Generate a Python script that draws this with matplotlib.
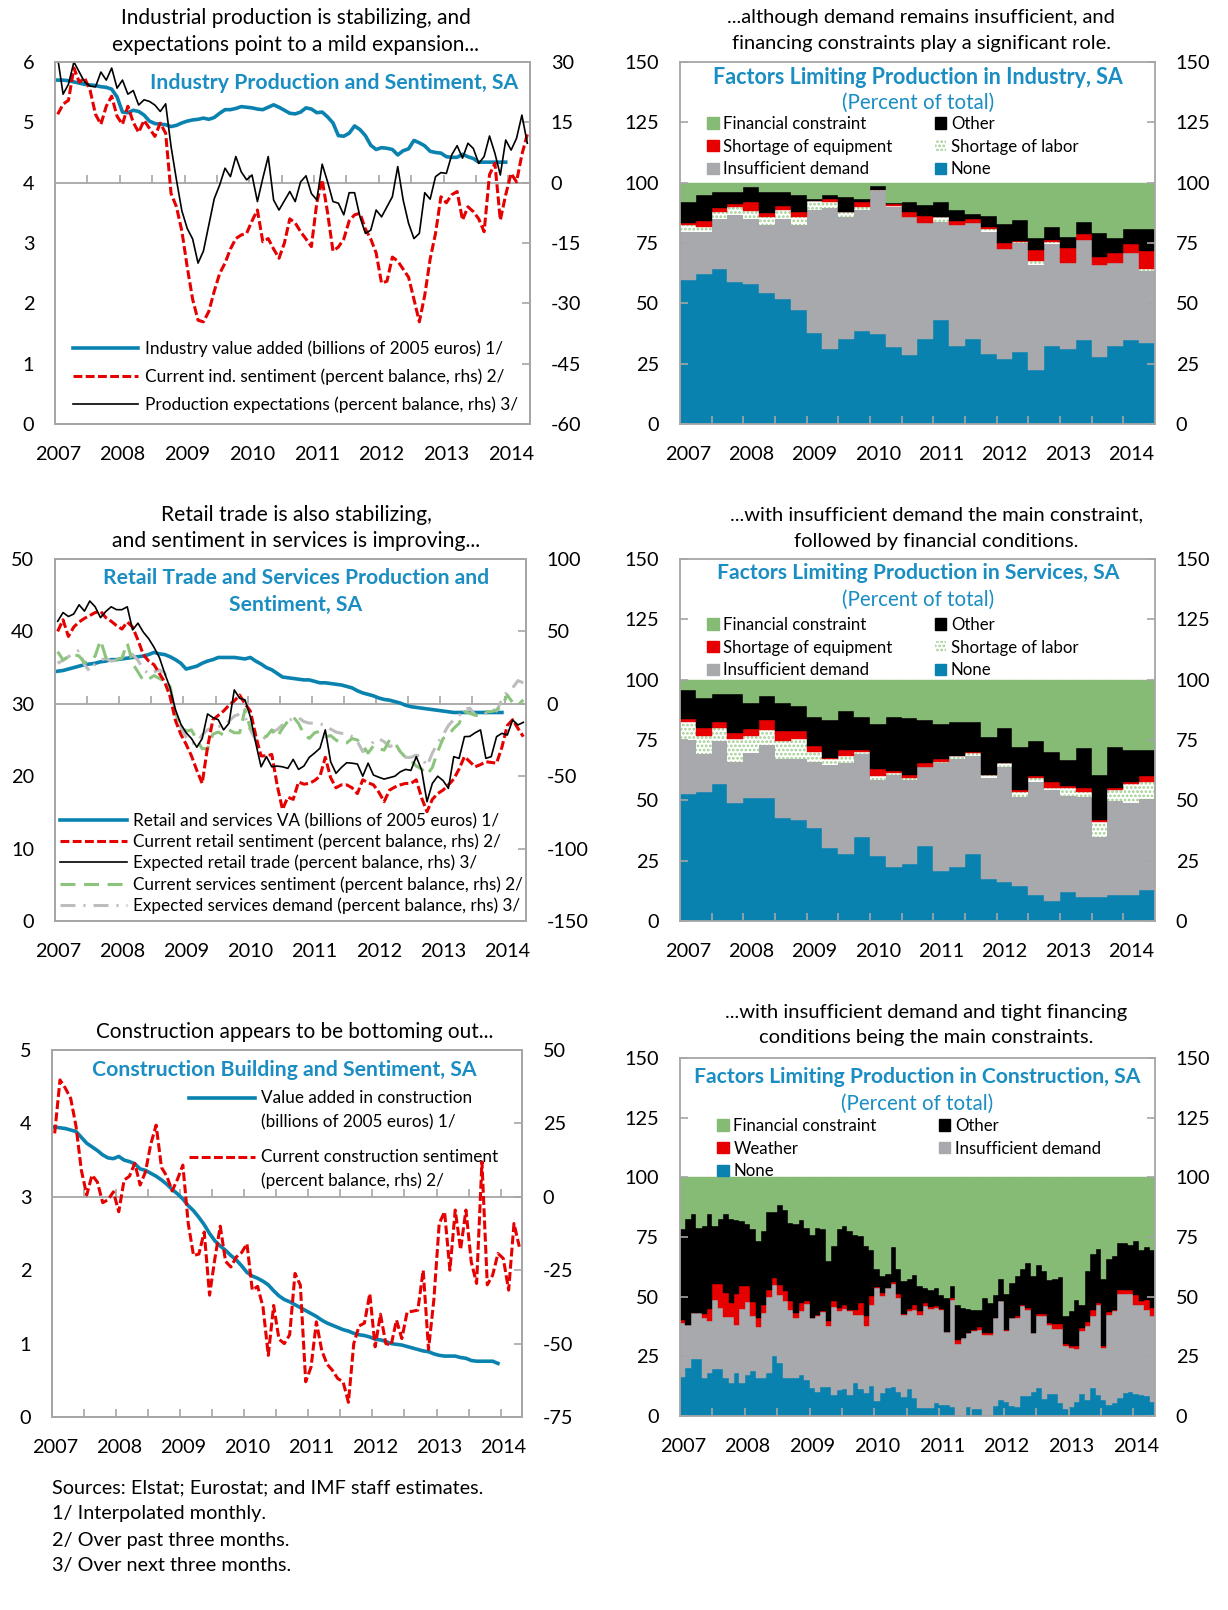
"""Greece: production, sentiment and factors limiting production (six panels)."""

import numpy as np
import matplotlib

matplotlib.use("Agg")
import matplotlib.pyplot as plt
from matplotlib.lines import Line2D
from matplotlib.patches import Patch

plt.rcParams["font.family"] = ["Lato", "DejaVu Sans"]
plt.rcParams["hatch.linewidth"] = 1.3
plt.rcParams["axes.unicode_minus"] = False

# ---------------------------------------------------------------- data
# monthly series, Jan 2007 onwards (value added ends Dec 2013)
ind_va = [5.70, 5.70, 5.69, 5.67, 5.65, 5.63, 5.62, 5.61, 5.59, 5.58, 5.55, 5.42,
          5.17, 5.16, 5.20, 5.18, 5.12, 5.02, 4.98, 4.97, 4.96, 4.93, 4.95, 4.99,
          5.02, 5.04, 5.05, 5.07, 5.05, 5.08, 5.15, 5.21, 5.21, 5.23, 5.26, 5.25,
          5.24, 5.22, 5.21, 5.25, 5.29, 5.25, 5.20, 5.15, 5.14, 5.17, 5.24, 5.22,
          5.16, 5.17, 5.09, 4.99, 4.78, 4.77, 4.82, 4.94, 4.88, 4.78, 4.62, 4.55,
          4.58, 4.57, 4.55, 4.46, 4.53, 4.56, 4.70, 4.66, 4.61, 4.52, 4.50, 4.49,
          4.43, 4.42, 4.42, 4.47, 4.43, 4.40, 4.34, 4.34, 4.34, 4.34, 4.34, 4.34]
ind_sent = [17, 19.5, 20.5, 28.5, 25, 26, 23, 17, 14.5, 19, 21.5, 16.5,
            14.5, 19, 15, 12.5, 15.5, 13.5, 11.5, 14.8, 12.3, -2.7, -6, -12,
            -21, -29, -34.2, -34.6, -32, -27, -22.6, -20, -16.5, -13.9, -13, -12.6,
            -9.5, -6.8, -14.7, -13.9, -16.5, -18.8, -15, -9, -10, -12.2, -14, -15.9,
            -5, 0.7, -7.5, -17, -16, -14, -9.5, -8, -7.6, -11.5, -14, -17.5,
            -25, -24.5, -18.5, -19.5, -21.5, -23.5, -29, -34.6, -28, -19, -12.6, -3.5,
            -5, -3, -2.2, -9.3, -6, -7.2, -9, -12.2, 2, 4.8, -9.3, -3,
            2.3, 0.2, 7, 12]
ind_expect = [31, 22, 24.5, 30, 27.5, 25, 24, 23.8, 27.5, 25.5, 28.5, 23.5,
              25.5, 22, 22.9, 19.3, 20.6, 20.2, 19.3, 17.7, 19.6, 9, 0.7, -7,
              -11.4, -14, -20, -17, -10.5, -4, -0.6, 3.6, 1.5, 6.5, 2.7, 0.7,
              1.9, -4.7, 1.1, 6.5, -4.3, -6.8, -4.5, -2.2, -4.7, 0.2, 1.7, -2.7,
              -4.3, 4.6, 0.2, -4.7, -5.1, -8, -2.5, -2.5, -8.5, -12.6, -11.8, -6.8,
              -8.5, -6, -3.5, 4, -4.3, -10.1, -13.9, -12.6, -2.5, -4.1, 1.5, 2.5,
              2.3, 6.9, 9.2, 6.1, 9.8, 8.5, 4.8, 6.5, 11.6, 7.3, 1.9, 10.6,
              8.1, 11, 16.8, 9.8]

ret_va = [34.5, 34.6, 34.8, 35.0, 35.2, 35.4, 35.5, 35.6, 35.8, 35.9, 36.1, 36.1,
          36.2, 36.3, 36.4, 36.5, 36.6, 36.8, 37.1, 36.9, 36.8, 36.5, 36.1, 35.6,
          34.8, 35.0, 35.2, 35.6, 35.9, 36.1, 36.4, 36.4, 36.4, 36.4, 36.3, 36.2,
          36.4, 35.9, 35.5, 35.0, 34.7, 34.2, 33.7, 33.6, 33.5, 33.4, 33.3, 33.3,
          33.1, 32.9, 32.9, 32.8, 32.7, 32.6, 32.4, 32.2, 31.8, 31.5, 31.3, 31.1,
          30.8, 30.6, 30.5, 30.3, 30.1, 29.8, 29.6, 29.5, 29.4, 29.3, 29.2, 29.1,
          29.0, 28.9, 28.8, 28.8, 28.8, 28.8, 28.8, 28.8, 28.8, 28.8, 28.8, 28.8]
ret_sent = [50, 58, 46.5, 53, 56.5, 59, 61, 63, 64, 59.5, 57, 54,
            51.6, 56.5, 53, 44, 34, 29.5, 27, 21, 15, 5, -11.5, -21,
            -28, -36, -46, -55, -30, -11, -8, -5, -1, 2, 6, 0,
            -5, -22, -36, -36, -35, -56, -73, -64.5, -66, -54, -55.5, -55,
            -53, -50, -37, -51, -58, -56, -56, -58, -62, -52.5, -54.5, -56,
            -61, -67.6, -59.6, -57.5, -56, -55, -55, -52.5, -65, -74.5, -66, -62,
            -59.6, -56, -52, -45, -36.5, -40, -43.5, -42, -40, -40.5, -41, -30,
            -15, -11, -17, -22.7]
ret_expect = [57, 63, 60.3, 62, 68.4, 64, 71, 67, 59.5, 63.8, 67, 65,
              65, 67, 51, 55.7, 49.5, 45, 39, 32, 21, 11, -4, -14,
              -20, -24, -30, -24, -7, -9.5, -11, -18, -13.5, 9.6, 3.8, 2.7,
              -9, -27, -43.5, -36.5, -43.5, -43, -43.5, -44.6, -38.4, -45.3, -43, -37,
              -34, -30.7, -18, -40, -48, -44, -40.7, -41, -41.6, -50, -41, -49.2,
              -50.7, -52, -51, -50, -47, -45.3, -46, -36.5, -45.7, -67.6, -55, -50,
              -53, -58.4, -36.5, -37.7, -22.7, -22.5, -20, -18, -37.7, -36.5, -22.7, -20.4,
              -21.6, -11.2, -14.6, -12.8]
serv_sent = [36, 30.3, 32.5, 34, 33, 28.5, 29, 33, 44, 32, 30.5, 30.5,
             31.5, 42, 28, 22, 16, 17, 19.5, 17.5, 15.4, 12, -6.6, -14,
             -19, -18, -25, -31, -31, -21, -19.5, -21.6, -18, -20, -20, -4,
             -17, -20, -21.5, -22.7, -18, -23, -17, -12, -9, -13.5, -21, -23.9,
             -20, -19, -22.7, -22, -25, -27.3, -27, -24, -25, -29, -34, -29,
             -31, -32, -25, -27, -33, -37, -39, -43, -45, -49, -44, -33,
             -24, -21.6, -17, -13.5, -5.4, -6.5, -8, -7, -5.4, -5.4, -4.3, -1.5,
             6, 1, -1, 2.7]
serv_demand = [28, 30, 32.5, 35, 37, 27, 22.5, 27.5, 30.3, 31.2, 29.5, 30,
               31.5, 35.5, 34, 30, 24, 20.5, 22, 23.4, 21.5, 10, -6, -16,
               -23, -27.3, -27, -21.5, -18, -16.5, -15.8, -15, -12, -8.5, -7, -9,
               -18, -25, -26, -22, -19, -18, -14.5, -12, -10, -9.5, -12.3, -13.3,
               -13.5, -14, -14.6, -17.5, -19.5, -20.4, -20.4, -22.7, -26, -33, -31, -26,
               -24, -26.2, -29.5, -28.5, -33, -37, -37, -35.4, -36.5, -43, -34, -27,
               -21.5, -15, -11, -8, -4, -3, -7.7, -8.9, -6.6, -3.5, -5, 3,
               8.4, 11, 16, 14.5]

con_va = [3.95, 3.94, 3.93, 3.91, 3.89, 3.81, 3.73, 3.68, 3.63, 3.57, 3.53, 3.52,
          3.55, 3.50, 3.48, 3.45, 3.38, 3.36, 3.32, 3.28, 3.23, 3.17, 3.10, 3.04,
          2.97, 2.88, 2.81, 2.72, 2.62, 2.50, 2.40, 2.33, 2.27, 2.20, 2.14, 2.06,
          1.97, 1.92, 1.89, 1.85, 1.80, 1.72, 1.65, 1.60, 1.57, 1.53, 1.49, 1.45,
          1.41, 1.37, 1.32, 1.28, 1.25, 1.22, 1.19, 1.17, 1.14, 1.12, 1.11, 1.09,
          1.06, 1.05, 1.03, 1.00, 0.99, 0.98, 0.96, 0.94, 0.92, 0.90, 0.89, 0.86,
          0.84, 0.83, 0.83, 0.83, 0.81, 0.80, 0.77, 0.76, 0.76, 0.76, 0.76, 0.73]
con_sent = [21.6, 39.8, 37, 33.5, 24, 9, 0.6, 7.4, 5, -2, -1, 1.7,
            -5.1, 5.7, 7, 11.4, 4, 8.5, 18, 24.4, 10, 7, 2, 6,
            10.8, -9, -20, -19.5, -12, -33.5, -21, -10, -22, -23.9, -20.5, -19,
            -16, -31.8, -30.5, -37.5, -54, -37, -48.5, -50, -47, -26.1, -30.1, -63,
            -58, -42.6, -52.3, -57, -59.1, -61.9, -63, -70, -50, -44, -43, -33,
            -51.1, -40, -50, -50.5, -42, -48.3, -39.2, -39, -38.6, -25, -52, -35,
            -9.1, -5.1, -25, -4.5, -18, -4.5, -22.2, -29.5, 11.9, -30, -26.7, -19.3,
            -21, -31.8, -9.1, -17]

# quarterly shares, 2007Q1-2014Q2 (percent of total)
ind_none = [59.7, 62.1, 64.4, 59.0, 58.2, 54.2, 52.0, 47.3, 37.9, 31.0, 35.4, 38.7, 37.2, 31.7, 28.5,
            35.4, 43.1, 32.4, 35.4, 29.2, 27.1, 30.0, 22.4, 32.4, 31.0, 34.7, 27.8, 32.4, 34.7, 33.5]
ind_demand = [19.8, 17.4, 20.5, 27.4, 26.7, 28.2, 32.9, 35.1, 50.7, 58.5, 50.2, 49.9, 59.2, 58.4, 57.1,
              47.8, 40.8, 50.0, 47.8, 50.3, 45.3, 44.9, 43.5, 42.1, 35.9, 41.6, 38.1, 34.5, 36.1, 29.7]
ind_labor = [2.8, 2.3, 2.9, 3.7, 3.2, 3.2, 3.7, 3.2, 3.9, 2.3, 2.2, 1.5, 0.7, 0.3, 0.0,
             0.0, 1.7, 0.0, 0.0, 1.5, 0.0, 0.7, 1.8, 0.8, 0.0, 0.0, 0.0, 0.0, 0.0, 1.0]
ind_equip = [0.9, 2.4, 1.7, 1.0, 3.7, 1.8, 1.8, 2.3, 0.0, 1.5, 0.0, 1.7, 0.0, 0.7, 2.3,
             3.1, 0.0, 1.8, 1.7, 0.6, 2.4, 0.4, 4.2, 1.0, 6.2, 2.4, 3.5, 3.9, 3.7, 7.3]
ind_other = [8.6, 10.5, 6.7, 5.1, 6.2, 8.8, 5.8, 6.8, 0.8, 1.4, 6.2, 1.5, 1.6, 0.4, 3.9,
             4.5, 6.2, 4.3, 2.1, 4.7, 8.2, 8.6, 5.0, 5.3, 4.5, 5.1, 9.7, 6.1, 6.2, 9.2]
ind_fin = [8.2, 5.3, 3.8, 3.8, 2.0, 3.8, 3.8, 5.3, 6.7, 5.3, 6.0, 6.7, 1.3, 8.5, 8.2,
           9.2, 8.2, 11.5, 13.0, 13.7, 17.0, 15.4, 23.1, 18.4, 22.4, 16.2, 20.9, 23.1, 19.3, 19.3]

srv_none = [52.6, 53.4, 56.7, 48.7, 51.1, 51.1, 42.5, 41.8, 38.6, 30.2, 27.8, 34.9, 27.0, 22.3, 23.8,
            31.0, 20.8, 22.3, 27.8, 17.6, 16.1, 14.5, 10.7, 8.3, 12.0, 9.8, 9.8, 10.7, 10.7, 13.0]
srv_demand = [22.4, 15.8, 17.9, 17.3, 18.6, 21.8, 24.5, 25.2, 27.4, 34.3, 37.5, 34.3, 31.4, 38.4, 34.6,
              32.9, 44.5, 44.7, 40.7, 41.5, 47.8, 36.7, 46.7, 45.9, 39.9, 41.4, 25.1, 39.0, 38.3, 37.5]
srv_labor = [7.3, 7.6, 5.5, 9.5, 7.1, 6.4, 7.7, 8.5, 4.0, 2.5, 3.2, 0.8, 1.7, 0.7, 0.7,
             0.0, 0.7, 1.5, 1.0, 1.2, 1.4, 2.3, 1.7, 1.0, 3.3, 2.3, 6.1, 4.5, 7.7, 7.1]
srv_equip = [1.6, 3.3, 2.2, 2.3, 2.6, 4.0, 3.9, 3.1, 2.4, 0.7, 2.3, 0.7, 2.9, 0.7, 1.6,
             1.4, 1.0, 0.0, 0.5, 0.4, 0.0, 0.7, 1.0, 2.2, 0.8, 1.7, 0.8, 1.0, 0.9, 2.5]
srv_other = [11.9, 12.3, 11.8, 16.3, 10.8, 10.0, 11.6, 10.6, 12.3, 15.6, 16.2, 14.0, 18.6, 22.6, 23.3,
             18.0, 14.6, 14.0, 12.5, 15.5, 14.8, 18.0, 14.6, 12.6, 10.8, 16.3, 18.7, 17.0, 13.1, 10.6]
srv_fin = [4.2, 7.6, 5.9, 5.9, 9.8, 6.7, 9.8, 10.8, 15.3, 16.7, 13.0, 15.3, 18.4, 15.3, 16.0,
           16.7, 18.4, 17.5, 17.5, 23.8, 19.9, 27.8, 25.3, 30.0, 33.2, 28.5, 39.5, 27.8, 29.3, 29.3]

# monthly shares, Jan 2007 - Apr 2014 (percent of total)
cst_none = [16.5, 20.3, 23.8, 23.8, 15.8, 17.9, 19.8, 19.8, 15.8, 14.0, 18.2, 14.0, 17.2, 18.9, 15.8,
            15.8, 17.9, 25.2, 22.2, 15.8, 15.8, 15.8, 17.2, 14.9, 11.9, 10.2, 12.3, 12.1, 8.8, 10.9,
            11.2, 8.8, 13.7, 11.2, 9.5, 12.6, 6.3, 9.5, 11.6, 12.1, 10.2, 8.1, 11.2, 7.4, 3.2,
            3.2, 3.2, 5.3, 4.6, 4.6, 3.9, 0.0, 0.0, 3.6, 2.8, 2.8, 0.0, 0.0, 4.2, 6.7,
            6.0, 4.2, 3.9, 8.4, 8.4, 10.2, 11.6, 7.0, 9.3, 9.3, 5.3, 2.8, 3.9, 6.0, 9.3,
            6.7, 11.9, 8.8, 6.7, 4.6, 5.3, 7.4, 9.5, 10.2, 9.3, 8.8, 8.4, 6.0]
cst_demand = [22.5, 18.0, 19.4, 19.4, 25.3, 21.8, 28.7, 25.5, 25.7, 27.5, 20.1, 30.9, 30.5, 23.2, 21.5,
              27.4, 32.0, 29.5, 28.7, 32.3, 28.8, 25.3, 26.7, 32.2, 29.2, 31.6, 31.2, 25.5, 36.9, 33.3,
              33.7, 35.1, 28.8, 31.0, 28.1, 34.1, 47.4, 40.7, 42.1, 43.0, 39.3, 34.4, 33.0, 37.2, 39.0,
              42.8, 41.7, 40.0, 39.7, 30.4, 44.9, 30.3, 32.7, 31.2, 32.7, 33.1, 34.1, 34.1, 36.9, 41.4,
              29.5, 36.9, 37.2, 37.6, 36.2, 24.6, 30.5, 35.1, 29.0, 27.1, 31.1, 26.4, 24.6, 22.0, 26.2,
              30.9, 29.9, 37.9, 21.8, 37.9, 38.6, 43.9, 41.8, 41.1, 37.4, 37.9, 36.2, 35.8]
cst_weather = [1.4, 0.0, 0.0, 0.0, 1.8, 5.2, 6.9, 10.1, 10.1, 5.9, 13.0, 9.5, 6.7, 5.6, 3.8,
               3.5, 3.1, 3.2, 3.8, 4.2, 3.5, 2.1, 3.5, 1.0, 0.0, 0.7, 0.4, 2.1, 2.4, 1.1,
               1.8, 0.7, 2.1, 5.2, 4.2, 3.5, 0.3, 1.4, 0.0, 1.0, 1.7, 0.4, 0.7, 2.1, 2.0,
               1.4, 0.8, 0.7, 0.6, 0.0, 0.7, 1.7, 0.0, 0.0, 0.7, 1.3, 0.7, 0.7, 0.0, 0.0,
               0.7, 0.0, 1.0, 0.7, 0.7, 0.0, 0.8, 0.8, 0.7, 2.3, 2.3, 1.1, 0.9, 1.2, 1.4,
               1.7, 2.8, 0.7, 0.7, 1.0, 0.7, 1.7, 1.7, 1.7, 3.8, 1.4, 4.2, 3.5]
cst_other = [38.1, 44.1, 41.3, 35.7, 36.5, 39.6, 24.0, 27.3, 32.9, 35.0, 30.7, 27.1, 26.2, 30.8, 32.2,
             30.8, 32.5, 27.6, 33.6, 33.9, 32.9, 37.1, 34.8, 30.8, 34.6, 36.4, 34.6, 25.2, 23.1, 33.2,
             32.9, 32.9, 31.1, 28.0, 29.4, 19.2, 7.4, 7.0, 5.6, 14.8, 10.2, 13.6, 12.3, 12.5, 10.2,
             6.3, 6.9, 7.7, 5.6, 14.5, 4.9, 14.7, 12.6, 10.1, 8.4, 7.1, 14.7, 12.6, 9.4, 9.4,
             15.1, 14.7, 16.5, 14.7, 18.6, 23.8, 20.2, 17.8, 17.9, 18.8, 19.6, 11.5, 14.8, 19.6, 9.8,
             21.4, 23.1, 22.7, 28.3, 22.1, 22.4, 19.3, 19.3, 18.8, 22.8, 21.3, 22.1, 24.1]
cst_fin = [21.5, 17.6, 15.5, 21.1, 20.6, 15.5, 20.6, 17.3, 15.5, 17.6, 18.0, 18.5, 19.4, 21.5, 26.7,
           22.5, 14.5, 14.5, 11.7, 13.8, 19.0, 19.7, 17.8, 21.1, 24.3, 21.1, 21.5, 35.1, 28.8, 21.5,
           20.4, 22.5, 24.3, 24.6, 28.8, 30.6, 38.6, 41.4, 40.7, 29.1, 38.6, 43.5, 42.8, 40.8, 45.6,
           46.3, 47.4, 46.3, 49.5, 50.5, 45.6, 53.3, 54.7, 55.1, 55.4, 55.7, 50.5, 52.6, 49.5, 42.5,
           48.7, 44.2, 41.4, 38.6, 36.1, 41.4, 36.9, 39.3, 43.1, 42.5, 41.7, 58.2, 55.8, 51.2, 53.3,
           39.3, 32.3, 29.9, 42.5, 34.4, 33.0, 27.7, 27.7, 28.2, 26.7, 30.6, 29.1, 30.6]

years = list(range(2007, 2015))
year_labels = [str(y) for y in years]

# ---------------------------------------------------------------- style
W, H = 1228, 1610
FRAME = "#A6A6A6"
BLUE = "#0A82B0"
TBLUE = "#1A8DC2"
RED = "#E60000"
GREEN = "#86BB76"
LGREEN = "#9FCF8F"
GRAY = "#A7A9AC"
SGREEN = "#8CC47E"
SGRAY = "#BDBDBD"
TICK_FS = 14.3
BAR_LEG_FS = 12.1

months = 2007 + (np.arange(88) + 0.5) / 12
quarters = 2007 + (np.arange(30) + 0.5) / 4
half_years = np.arange(2007.5, 2014.01, 0.5)

fig = plt.figure(figsize=(W / 100, H / 100), dpi=100)


def fx(x):
    return x / W


def fy(y):
    return 1 - y / H


def add_box(x0, y0, x1, y1):
    return fig.add_axes([fx(x0), fy(y1), (x1 - x0) / W, (y1 - y0) / H])


def frame(ax):
    for sp in ax.spines.values():
        sp.set_color(FRAME)
        sp.set_linewidth(1.3)


def heading(x, y, lines, size):
    for yy, txt in zip(y, lines):
        fig.text(fx(x), fy(yy), txt, ha="center", va="center", fontsize=size)


def inner_title(x, y, txt, size, bold=True):
    fig.text(fx(x), fy(y), txt, ha="center", va="center", fontsize=size,
             color=TBLUE, fontweight="bold" if bold else "normal")


def x_axis(ax, label_pos, xmax, bottom_ticks):
    ax.set_xlim(2007, xmax)
    ax.set_xticks(label_pos, year_labels)
    ax.set_xticks(half_years, minor=True)
    ax.tick_params(axis="x", which="major", length=0, pad=15.5, labelsize=TICK_FS)
    ax.tick_params(axis="x", which="minor", direction="in", color=FRAME, width=1.2,
                   length=6 if bottom_ticks else 0)


def line_panel(box, llim, lticks, rlim, rticks, zero_left, bottom_ticks=False):
    ax = add_box(*box)
    ax2 = ax.twinx()
    x_axis(ax, np.array(years) + 1 / 24, 2007 + 88 / 12, bottom_ticks)
    ax.set_ylim(*llim)
    ax.set_yticks(lticks)
    ax.tick_params(axis="y", length=0, pad=15, labelsize=TICK_FS)
    ax2.set_ylim(*rlim)
    ax2.set_yticks(rticks)
    ax2.tick_params(axis="y", direction="in", length=6, width=1.2, color=FRAME,
                    pad=15, labelsize=TICK_FS)
    frame(ax)
    frame(ax2)
    ax.axhline(zero_left, color=FRAME, lw=1.3, zorder=1)
    ax.plot(half_years, np.full(len(half_years), zero_left), ls="none", marker=2,
            ms=6, mew=1.2, color=FRAME, zorder=1)
    return ax, ax2


def bar_panel(box, xs, width, xmax, label_pos, stacks):
    ax = add_box(*box)
    bottom = np.zeros(len(xs))
    for vals, color, hatch in stacks:
        vals = np.asarray(vals)
        if hatch:
            ax.bar(xs, vals, width, bottom=bottom, color="white", edgecolor=LGREEN,
                   hatch=hatch, linewidth=0)
        else:
            ax.bar(xs, vals, width, bottom=bottom, color=color, edgecolor=color,
                   linewidth=0.3)
        bottom = bottom + vals
    x_axis(ax, label_pos, xmax, True)
    ax.set_ylim(0, 150)
    ax.set_yticks(np.arange(0, 151, 25))
    ax.tick_params(axis="y", direction="in", length=6, width=1.2, color=FRAME,
                   left=True, right=True, labelleft=True, labelright=True,
                   pad=15, labelsize=TICK_FS)
    frame(ax)
    return ax


def bar_legend(ax, handles, x, y, colsp):
    ax.legend(handles=handles, ncol=2, loc="upper left", bbox_to_anchor=(fx(x), fy(y)),
              bbox_transform=fig.transFigure, frameon=False, fontsize=BAR_LEG_FS,
              handlelength=0.7, handleheight=0.65, handletextpad=0.27,
              labelspacing=0.4, columnspacing=colsp, borderpad=0, borderaxespad=0)


def patch(color, label, hatch=None):
    if hatch:
        return Patch(facecolor="white", edgecolor=LGREEN, hatch=hatch, lw=0, label=label)
    return Patch(facecolor=color, edgecolor=color, label=label)


red_dash = dict(color=RED, lw=2.2, dashes=(2.9, 1.1))
green_dash = dict(color=SGREEN, lw=2.2, dashes=(4.9, 2.8))
gray_dashdot = dict(color=SGRAY, lw=2.2, dashes=(4.9, 2.6, 0.7, 2.6))

# ---------------------------------------------------------------- panel 1
ax, ax2 = line_panel((55, 62, 530, 424), (0, 6), range(0, 7), (-60, 30),
                     range(-60, 31, 15), 4)
ax.plot(months[:84], ind_va, color=BLUE, lw=2.6)
ax2.plot(months, ind_sent, **red_dash)
ax2.plot(months, ind_expect, color="black", lw=1.2)
ax2.legend(handles=[Line2D([], [], color=BLUE, lw=2.6),
                    Line2D([], [], **red_dash),
                    Line2D([], [], color="black", lw=1.2)],
           labels=["Industry value added (billions of 2005 euros) 1/",
                   "Current ind. sentiment (percent balance, rhs) 2/",
                   "Production expectations (percent balance, rhs) 3/"],
           loc="upper left", bbox_to_anchor=(fx(73), fy(340)), bbox_transform=fig.transFigure,
           frameon=False, fontsize=12.4, handlelength=3.8, handletextpad=0.4,
           labelspacing=0.68, borderpad=0, borderaxespad=0)
heading(296, [18, 45], ["Industrial production is stabilizing, and",
                        "expectations point to a mild expansion..."], 15)
inner_title(334, 83, "Industry Production and Sentiment, SA", 15.3)

# ---------------------------------------------------------------- panel 2
ax = bar_panel((680, 62, 1155, 424), quarters, 0.25, 2014.5, np.array(years) + 0.125,
               [(ind_none, BLUE, None), (ind_demand, GRAY, None), (ind_labor, None, "...."),
                (ind_equip, RED, None), (ind_other, "black", None), (ind_fin, GREEN, None)])
bar_legend(ax, [patch(GREEN, "Financial constraint"), patch(RED, "Shortage of equipment"),
                patch(GRAY, "Insufficient demand"), patch("black", "Other"),
                patch(None, "Shortage of labor", "...."), patch(BLUE, "None")], 707, 116, 2.5)
heading(921, [17, 44], ["...although demand remains insufficient, and",
                        "financing constraints play a significant role."], 14.5)
inner_title(918, 77, "Factors Limiting Production in Industry, SA", 15.5)
inner_title(918, 103, "(Percent of total)", 14.8, bold=False)

# ---------------------------------------------------------------- panel 3
ax, ax2 = line_panel((55, 559, 526, 921), (0, 50), range(0, 51, 10), (-150, 100),
                     range(-150, 101, 50), 30)
ax.plot(months[:84], ret_va, color=BLUE, lw=2.6)
ax2.plot(months, serv_demand, **gray_dashdot)
ax2.plot(months, serv_sent, **green_dash)
ax2.plot(months, ret_sent, **red_dash)
ax2.plot(months, ret_expect, color="black", lw=1.2)
ax2.legend(handles=[Line2D([], [], color=BLUE, lw=2.6),
                    Line2D([], [], **red_dash),
                    Line2D([], [], color="black", lw=1.2),
                    Line2D([], [], **green_dash),
                    Line2D([], [], **gray_dashdot)],
           labels=["Retail and services VA (billions of 2005 euros) 1/",
                   "Current retail sentiment (percent balance, rhs) 2/",
                   "Expected retail trade (percent balance, rhs) 3/",
                   "Current services sentiment (percent balance, rhs) 2/",
                   "Expected services demand (percent balance, rhs) 3/"],
           loc="upper left", bbox_to_anchor=(fx(60), fy(813)), bbox_transform=fig.transFigure,
           frameon=False, fontsize=12.3, handlelength=3.9, handletextpad=0.4,
           labelspacing=0.27, borderpad=0, borderaxespad=0)
heading(296, [515, 541], ["Retail trade is also stabilizing,",
                          "and sentiment in services is improving..."], 15.2)
inner_title(296, 578, "Retail Trade and Services Production and", 15.2)
inner_title(296, 605, "Sentiment, SA", 15.2)

# ---------------------------------------------------------------- panel 4
ax = bar_panel((680, 559, 1155, 921), quarters, 0.25, 2014.5, np.array(years) + 0.125,
               [(srv_none, BLUE, None), (srv_demand, GRAY, None), (srv_labor, None, "...."),
                (srv_equip, RED, None), (srv_other, "black", None), (srv_fin, GREEN, None)])
bar_legend(ax, [patch(GREEN, "Financial constraint"), patch(RED, "Shortage of equipment"),
                patch(GRAY, "Insufficient demand"), patch("black", "Other"),
                patch(None, "Shortage of labor", "...."), patch(BLUE, "None")], 707, 617, 2.5)
heading(936, [515, 541], ["...with insufficient demand the main constraint,",
                          "followed by financial conditions."], 14.5)
inner_title(918, 573, "Factors Limiting Production in Services, SA", 15.2)
inner_title(918, 600, "(Percent of total)", 14.8, bold=False)

# ---------------------------------------------------------------- panel 5
ax, ax2 = line_panel((52, 1050, 522, 1417), (0, 5), range(0, 6), (-75, 50),
                     range(-75, 51, 25), 3, bottom_ticks=True)
ax.plot(months[:84], con_va, color=BLUE, lw=2.6)
ax2.plot(months, con_sent, **red_dash)
for (y1, y2), style, (t1, t2) in [
        ((1098, 1122), dict(color=BLUE, lw=2.6),
         ("Value added in construction", "(billions of 2005 euros) 1/")),
        ((1157, 1181), red_dash,
         ("Current construction sentiment", "(percent balance, rhs) 2/"))]:
    ax2.add_line(Line2D([fx(189), fx(255)], [fy(y1), fy(y1)], transform=fig.transFigure,
                        **style))
    fig.text(fx(261), fy(y1), t1, va="center", fontsize=12.3)
    fig.text(fx(261), fy(y2), t2, va="center", fontsize=12.3)
heading(295, [1032], ["Construction appears to be bottoming out..."], 14.9)
inner_title(284, 1070, "Construction Building and Sentiment, SA", 15.3)

# ---------------------------------------------------------------- panel 6
ax = bar_panel((680, 1058, 1155, 1416), months, 1 / 12, 2007 + 88 / 12,
               np.array(years) + 1 / 24,
               [(cst_none, BLUE, None), (cst_demand, GRAY, None), (cst_weather, RED, None),
                (cst_other, "black", None), (cst_fin, GREEN, None)])
bar_legend(ax, [patch(GREEN, "Financial constraint"), patch(RED, "Weather"),
                patch(BLUE, "None"), patch("black", "Other"),
                patch(GRAY, "Insufficient demand")], 717, 1118, 3.7)
heading(926, [1012, 1038], ["...with insufficient demand and tight financing",
                            "conditions being the main constraints."], 14.5)
inner_title(917, 1077, "Factors Limiting Production in Construction, SA", 15.2)
inner_title(917, 1104, "(Percent of total)", 14.8, bold=False)

# ---------------------------------------------------------------- notes
for yy, txt in zip([1488, 1513, 1540, 1565],
                   ["Sources: Elstat; Eurostat; and IMF staff estimates.",
                    "1/ Interpolated monthly.",
                    "2/ Over past three months.",
                    "3/ Over next three months."]):
    fig.text(fx(52), fy(yy), txt, va="center", fontsize=14.3)

fig.savefig("out.png", dpi=100)
